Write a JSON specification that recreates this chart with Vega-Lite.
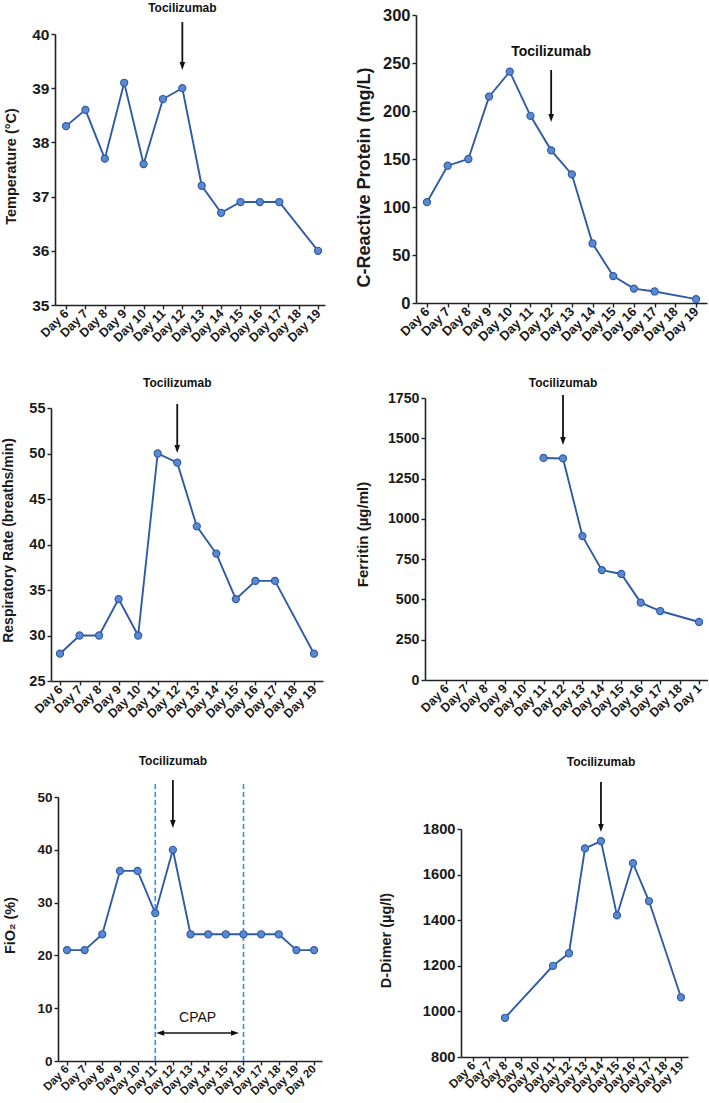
{
  "$schema": "https://vega.github.io/schema/vega-lite/v6.json",
  "padding": 0,
  "background": "white",
  "columns": 2,
  "spacing": 0,
  "bounds": "flush",
  "config": {
    "view": {"stroke": null},
    "axis": {
      "domainColor": "#222", "domainWidth": 1.6, "tickColor": "#222", "tickWidth": 1.4, "tickSize": 4,
      "labelFont": "Liberation Sans", "labelFontWeight": "bold", "labelColor": "#1a1a1a", "labelPadding": 2,
      "titleFont": "Liberation Sans", "titleFontWeight": "bold", "titleColor": "#1a1a1a",
      "grid": false, "labelOverlap": false, "labelFlush": false
    },
    "axisX": {"labelAngle": -45, "labelAlign": "right", "labelBaseline": "middle", "title": null},
    "axisY": {"format": "d", "titleAngle": -90, "titleBaseline": "middle", "titleAlign": "center"},
    "line": {"color": "#2F5BA6", "strokeWidth": 1.9},
    "point": {"filled": true, "fill": "#5A88D1", "stroke": "#2F5BA6", "strokeWidth": 1.2, "size": 50, "opacity": 1},
    "rule": {"color": "#111", "strokeWidth": 1.8},
    "text": {"font": "Liberation Sans", "fontWeight": "bold", "fontSize": 12, "color": "#111"}
  },
  "concat": [
    {
      "width": 354, "height": 368,
      "data": {"values": [
        {"day": 6, "value": 38.3}, {"day": 7, "value": 38.6}, {"day": 8, "value": 37.7}, {"day": 9, "value": 39.1},
        {"day": 10, "value": 37.6}, {"day": 11, "value": 38.8}, {"day": 12, "value": 39.0}, {"day": 13, "value": 37.2},
        {"day": 14, "value": 36.7}, {"day": 15, "value": 36.9}, {"day": 16, "value": 36.9}, {"day": 17, "value": 36.9},
        {"day": 19, "value": 36.0}
      ]},
      "encoding": {
        "x": {"field": "day", "type": "quantitative", "scale": {"domain": [5.43, 19.36], "range": [55, 325], "nice": false, "zero": false},
          "axis": {"values": [6,7,8,9,10,11,12,13,14,15,16,17,18,19], "labelExpr": "'Day ' + datum.value", "labelFontSize": 12.5, "offset": -63}},
        "y": {"field": "value", "type": "quantitative", "scale": {"domain": [35, 40], "range": [305, 34], "nice": false, "zero": false},
          "axis": {"values": [35,36,37,38,39,40], "labelFontSize": 15.5, "offset": -55, "title": "Temperature (°C)", "titleFontSize": 14.5, "titleX": -44, "titleY": 166}}
      },
      "layer": [
        {"mark": {"type": "line"}},
        {"mark": {"type": "point"}},
        {"transform": [{"filter": "datum.day == 12"}], "mark": {"type": "rule"}, "encoding": {"y": {"datum": 40.22}, "y2": {"datum": 39.41}}},
        {"transform": [{"filter": "datum.day == 12"}], "mark": {"type": "point", "shape": "M-0.7,-1L0.7,-1L0,1Z", "fill": "#111", "stroke": null, "size": 64}, "encoding": {"y": {"datum": 39.41}}},
        {"transform": [{"filter": "datum.day == 12"}], "mark": {"type": "text", "text": "Tocilizumab"}, "encoding": {"y": {"datum": 40.48}}}
      ]
    },
    {
      "width": 354, "height": 368,
      "data": {"values": [
        {"day": 6, "value": 105}, {"day": 7, "value": 143}, {"day": 8, "value": 150}, {"day": 9, "value": 215},
        {"day": 10, "value": 241}, {"day": 11, "value": 195}, {"day": 12, "value": 159}, {"day": 13, "value": 134},
        {"day": 14, "value": 62}, {"day": 15, "value": 28}, {"day": 16, "value": 15}, {"day": 17, "value": 12},
        {"day": 19, "value": 4}
      ]},
      "encoding": {
        "x": {"field": "day", "type": "quantitative", "scale": {"domain": [5.47, 19.53], "range": [62, 353], "nice": false, "zero": false},
          "axis": {"values": [6,7,8,9,10,11,12,13,14,15,16,17,18,19], "labelExpr": "'Day ' + datum.value", "labelFontSize": 13, "offset": -65}},
        "y": {"field": "value", "type": "quantitative", "scale": {"domain": [0, 300], "range": [303, 15], "nice": false, "zero": false},
          "axis": {"values": [0,50,100,150,200,250,300], "labelFontSize": 16.5, "offset": -62, "title": "C-Reactive Protein (mg/L)", "titleFontSize": 18, "titleX": -52, "titleY": 177}}
      },
      "layer": [
        {"mark": {"type": "line"}},
        {"mark": {"type": "point"}},
        {"transform": [{"filter": "datum.day == 12"}], "mark": {"type": "rule"}, "encoding": {"y": {"datum": 242.7}, "y2": {"datum": 192.7}}},
        {"transform": [{"filter": "datum.day == 12"}], "mark": {"type": "point", "shape": "M-0.7,-1L0.7,-1L0,1Z", "fill": "#111", "stroke": null, "size": 64}, "encoding": {"y": {"datum": 192.7}}},
        {"transform": [{"filter": "datum.day == 12"}], "mark": {"type": "text", "text": "Tocilizumab", "fontSize": 14}, "encoding": {"y": {"datum": 261.5}}}
      ]
    },
    {
      "width": 354, "height": 368,
      "data": {"values": [
        {"day": 6, "value": 28}, {"day": 7, "value": 30}, {"day": 8, "value": 30}, {"day": 9, "value": 34},
        {"day": 10, "value": 30}, {"day": 11, "value": 50}, {"day": 12, "value": 49}, {"day": 13, "value": 42},
        {"day": 14, "value": 39}, {"day": 15, "value": 34}, {"day": 16, "value": 36}, {"day": 17, "value": 36},
        {"day": 19, "value": 28}
      ]},
      "encoding": {
        "x": {"field": "day", "type": "quantitative", "scale": {"domain": [5.54, 19.46], "range": [51, 323], "nice": false, "zero": false},
          "axis": {"values": [6,7,8,9,10,11,12,13,14,15,16,17,18,19], "labelExpr": "'Day ' + datum.value", "labelFontSize": 12.5, "offset": -55}},
        "y": {"field": "value", "type": "quantitative", "scale": {"domain": [25, 55], "range": [313, 40], "nice": false, "zero": false},
          "axis": {"values": [25,30,35,40,45,50,55], "labelFontSize": 14.5, "offset": -51, "title": "Respiratory Rate (breaths/min)", "titleFontSize": 14, "titleX": -43, "titleY": 172}}
      },
      "layer": [
        {"mark": {"type": "line"}},
        {"mark": {"type": "point"}},
        {"transform": [{"filter": "datum.day == 12"}], "mark": {"type": "rule"}, "encoding": {"y": {"datum": 55.44}, "y2": {"datum": 50.49}}},
        {"transform": [{"filter": "datum.day == 12"}], "mark": {"type": "point", "shape": "M-0.7,-1L0.7,-1L0,1Z", "fill": "#111", "stroke": null, "size": 64}, "encoding": {"y": {"datum": 50.49}}},
        {"transform": [{"filter": "datum.day == 12"}], "mark": {"type": "text", "text": "Tocilizumab"}, "encoding": {"y": {"datum": 57.75}}}
      ]
    },
    {
      "width": 354, "height": 368,
      "data": {"values": [
        {"day": 11, "value": 1378}, {"day": 12, "value": 1375}, {"day": 13, "value": 893}, {"day": 14, "value": 682},
        {"day": 15, "value": 658}, {"day": 16, "value": 480}, {"day": 17, "value": 428}, {"day": 19, "value": 360}
      ]},
      "encoding": {
        "x": {"field": "day", "type": "quantitative", "scale": {"domain": [4.9, 19.46], "range": [71, 354], "nice": false, "zero": false},
          "axis": {"values": [6,7,8,9,10,11,12,13,14,15,16,17,18,19], "labelExpr": "datum.value == 19 ? 'Day 1' : 'Day ' + datum.value", "labelFontSize": 12.5, "offset": -56}},
        "y": {"field": "value", "type": "quantitative", "scale": {"domain": [0, 1750], "range": [312, 30], "nice": false, "zero": false},
          "axis": {"values": [0,250,500,750,1000,1250,1500,1750], "labelFontSize": 14.2, "offset": -71, "title": "Ferritin (µg/ml)", "titleFontSize": 15, "titleX": -63, "titleY": 166}}
      },
      "layer": [
        {"mark": {"type": "line"}},
        {"mark": {"type": "point"}},
        {"transform": [{"filter": "datum.day == 12"}], "mark": {"type": "rule"}, "encoding": {"y": {"datum": 1768.6}, "y2": {"datum": 1483}}},
        {"transform": [{"filter": "datum.day == 12"}], "mark": {"type": "point", "shape": "M-0.7,-1L0.7,-1L0,1Z", "fill": "#111", "stroke": null, "size": 64}, "encoding": {"y": {"datum": 1483}}},
        {"transform": [{"filter": "datum.day == 12"}], "mark": {"type": "text", "text": "Tocilizumab"}, "encoding": {"y": {"datum": 1843}}}
      ]
    },
    {
      "width": 354, "height": 368,
      "data": {"values": [
        {"day": 6, "value": 21}, {"day": 7, "value": 21}, {"day": 8, "value": 24}, {"day": 9, "value": 36},
        {"day": 10, "value": 36}, {"day": 11, "value": 28}, {"day": 12, "value": 40}, {"day": 13, "value": 24},
        {"day": 14, "value": 24}, {"day": 15, "value": 24}, {"day": 16, "value": 24}, {"day": 17, "value": 24},
        {"day": 18, "value": 24}, {"day": 19, "value": 21}, {"day": 20, "value": 21}
      ]},
      "encoding": {
        "x": {"field": "day", "type": "quantitative", "scale": {"domain": [5.49, 20.45], "range": [58, 322], "nice": false, "zero": false},
          "axis": {"values": [6,7,8,9,10,11,12,13,14,15,16,17,18,19,20], "labelExpr": "'Day ' + datum.value", "labelFontSize": 11.5, "offset": -43}},
        "y": {"field": "value", "type": "quantitative", "scale": {"domain": [0, 50], "range": [325, 61], "nice": false, "zero": false},
          "axis": {"values": [0,10,20,30,40,50], "labelFontSize": 13.5, "offset": -58, "title": "FiO₂ (%)", "titleFontSize": 14.5, "titleX": -48, "titleY": 189}}
      },
      "layer": [
        {"transform": [{"filter": "datum.day == 11 || datum.day == 16"}], "mark": {"type": "rule", "color": "#3C8CEC", "strokeWidth": 1.6, "strokeDash": [5, 3]}, "encoding": {"y": {"datum": 0}, "y2": {"datum": 53}}},
        {"mark": {"type": "line"}},
        {"mark": {"type": "point"}},
        {"transform": [{"filter": "datum.day == 12"}], "mark": {"type": "rule"}, "encoding": {"y": {"datum": 53.2}, "y2": {"datum": 44.9}}},
        {"transform": [{"filter": "datum.day == 12"}], "mark": {"type": "point", "shape": "M-0.7,-1L0.7,-1L0,1Z", "fill": "#111", "stroke": null, "size": 64}, "encoding": {"y": {"datum": 44.9}}},
        {"transform": [{"filter": "datum.day == 12"}], "mark": {"type": "text", "text": "Tocilizumab"}, "encoding": {"y": {"datum": 56.8}}},
        {"transform": [{"filter": "datum.day == 12"}], "mark": {"type": "text", "text": "CPAP", "fontWeight": "normal", "fontSize": 14}, "encoding": {"x": {"datum": 13.4}, "y": {"datum": 8.1}}},
        {"transform": [{"filter": "datum.day == 12"}], "mark": {"type": "rule", "strokeWidth": 1.6}, "encoding": {"x": {"datum": 11.28}, "x2": {"datum": 15.52}, "y": {"datum": 5.3}}},
        {"transform": [{"filter": "datum.day == 12"}], "mark": {"type": "point", "shape": "M1,-0.7L1,0.7L-1,0Z", "fill": "#111", "stroke": null, "size": 64}, "encoding": {"x": {"datum": 11.28}, "y": {"datum": 5.3}}},
        {"transform": [{"filter": "datum.day == 12"}], "mark": {"type": "point", "shape": "M-1,-0.7L-1,0.7L1,0Z", "fill": "#111", "stroke": null, "size": 64}, "encoding": {"x": {"datum": 15.52}, "y": {"datum": 5.3}}}
      ]
    },
    {
      "width": 354, "height": 368,
      "data": {"values": [
        {"day": 8, "value": 972}, {"day": 11, "value": 1200}, {"day": 12, "value": 1255}, {"day": 13, "value": 1715},
        {"day": 14, "value": 1747}, {"day": 15, "value": 1421}, {"day": 16, "value": 1650}, {"day": 17, "value": 1484},
        {"day": 19, "value": 1062}
      ]},
      "encoding": {
        "x": {"field": "day", "type": "quantitative", "scale": {"domain": [5.25, 19.44], "range": [107, 334], "nice": false, "zero": false},
          "axis": {"values": [6,7,8,9,10,11,12,13,14,15,16,17,18,19], "labelExpr": "'Day ' + datum.value", "labelFontSize": 12, "offset": -47}},
        "y": {"field": "value", "type": "quantitative", "scale": {"domain": [800, 1800], "range": [321, 93], "nice": false, "zero": false},
          "axis": {"values": [800,1000,1200,1400,1600,1800], "labelFontSize": 14.7, "offset": -107, "title": "D-Dimer (µg/l)", "titleFontSize": 14.5, "titleX": -75, "titleY": 204}}
      },
      "layer": [
        {"mark": {"type": "line"}},
        {"mark": {"type": "point"}},
        {"transform": [{"filter": "datum.day == 14"}], "mark": {"type": "rule"}, "encoding": {"y": {"datum": 2006}, "y2": {"datum": 1804.4}}},
        {"transform": [{"filter": "datum.day == 14"}], "mark": {"type": "point", "shape": "M-0.7,-1L0.7,-1L0,1Z", "fill": "#111", "stroke": null, "size": 64}, "encoding": {"y": {"datum": 1804.4}}},
        {"transform": [{"filter": "datum.day == 14"}], "mark": {"type": "text", "text": "Tocilizumab"}, "encoding": {"y": {"datum": 2094}}}
      ]
    }
  ]
}
